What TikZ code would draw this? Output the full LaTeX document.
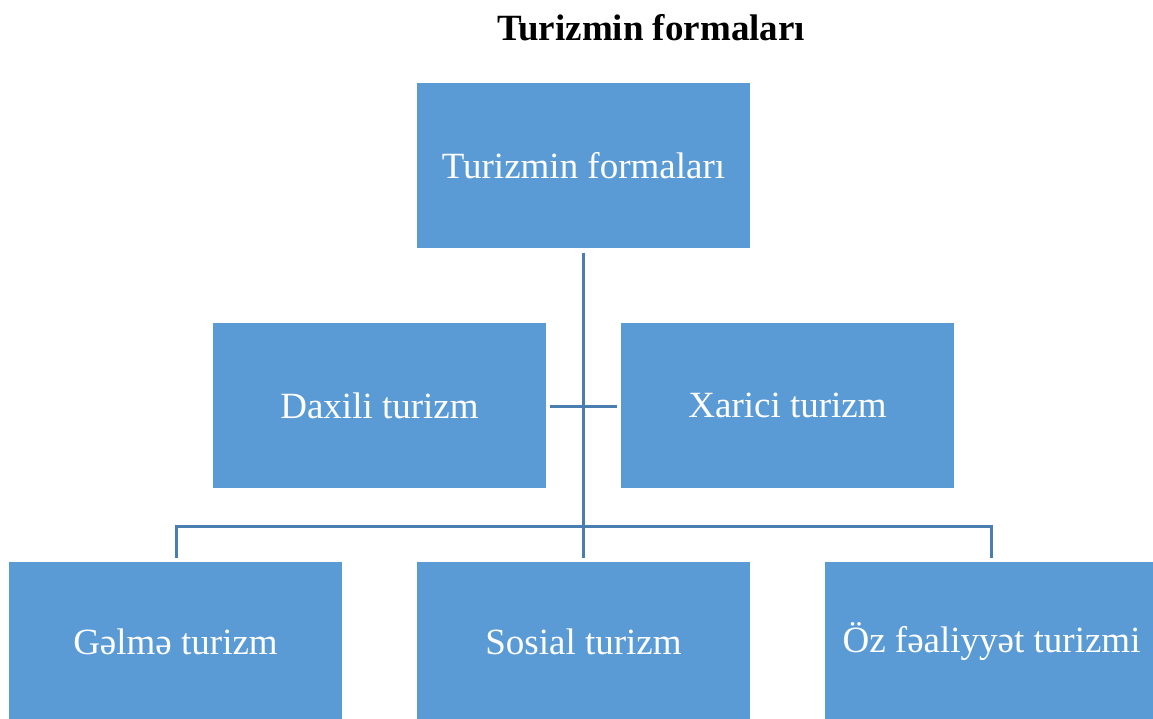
\documentclass[tikz,border=0pt]{standalone}
\usepackage{fontspec}
\setmainfont{Liberation Serif}
\definecolor{boxblue}{HTML}{5B9BD5}
\definecolor{lineblue}{HTML}{4A7EB0}
\begin{document}
\begin{tikzpicture}[x=1pt,y=-1pt,
  box/.style={fill=boxblue,draw=none,minimum width=333pt,minimum height=165pt,inner sep=0pt,text=white,font=\fontsize{37}{40}\selectfont},
  conn/.style={draw=lineblue,line width=3pt}]
\useasboundingbox (0,0) rectangle (1153,719);
\node[font=\bfseries\fontsize{37}{40}\selectfont] (title) at (651,28) {Turizmin formaları};
\node[box] (top) at (583.5,166) {Turizmin formaları};
\node[box] (left) at (379.5,405.5) {Daxili turizm};
\node[box] (right) at (787.5,405.5) {Xarici turizm};
\begin{scope}
\clip (0,0) rectangle (1153,719);
\node[box,minimum height=160pt] (b1) at (175.5,642) {Gəlmə turizm};
\node[box,minimum height=160pt] (b2) at (583.5,642) {Sosial turizm};
\node[box,minimum height=160pt] (b3) at (991.5,642) {Öz fəaliyyət turizmi};
\end{scope}
\coordinate (vtop) at (583.5,253);
\coordinate (hbar) at (583.5,526);
\coordinate (lend) at (550,406);
\coordinate (rend) at (617,406);
\draw[conn] (vtop) -- (583.5,558);
\draw[conn] (lend) -- (rend);
\draw[conn] (176,558) -- (176,526) -- (991,526) -- (991,558);
\end{tikzpicture}
\end{document}
